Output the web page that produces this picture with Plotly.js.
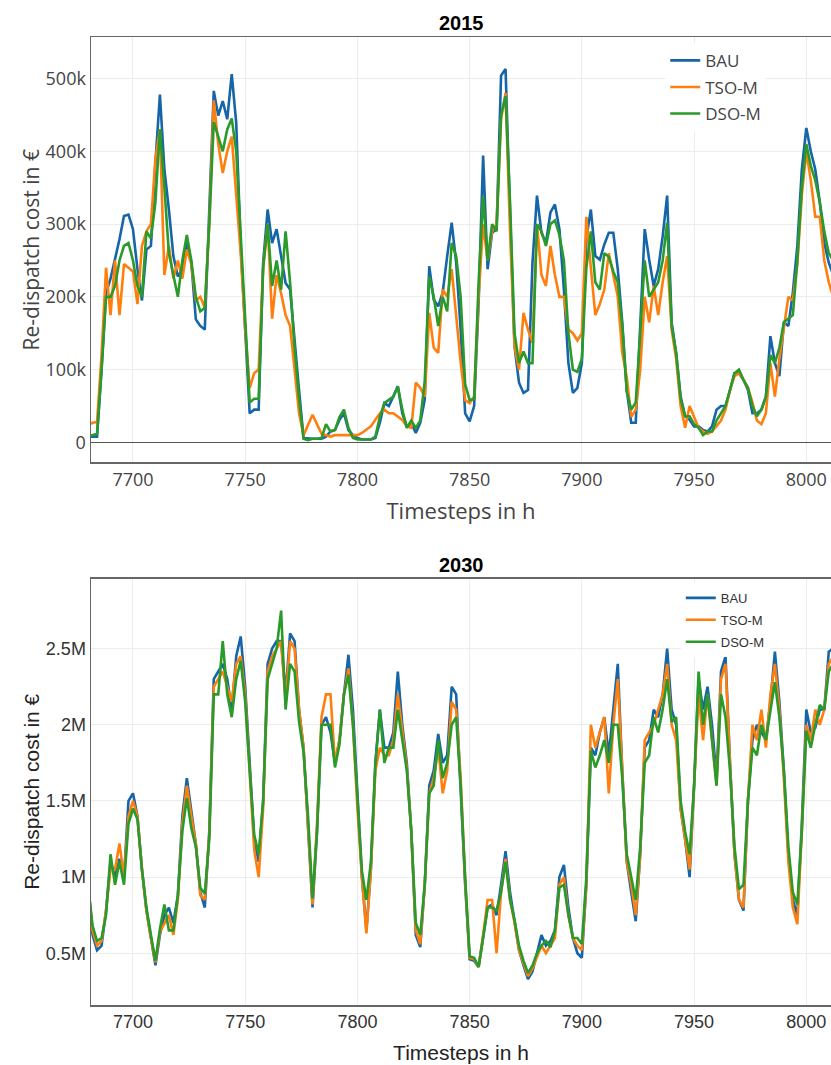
<!DOCTYPE html>
<html>
<head>
<meta charset="utf-8">
<script src="https://cdn.plot.ly/plotly-3.0.1.min.js"></script>
<style>html,body{margin:0;padding:0;background:#fff;}#chart{width:831px;height:1065px;}</style>
</head>
<body>
<div id="chart"></div>
<script>
// Timesteps (hours), sampled every 2 h
const hours = [
7680,7682,7684,7686,7688,7690,7692,7694,7696,7698,
7700,7702,7704,7706,7708,7710,7712,7714,7716,7718,
7720,7722,7724,7726,7728,7730,7732,7734,7736,7738,
7740,7742,7744,7746,7748,7750,7752,7754,7756,7758,
7760,7762,7764,7766,7768,7770,7772,7774,7776,7778,
7780,7782,7784,7786,7788,7790,7792,7794,7796,7798,
7800,7802,7804,7806,7808,7810,7812,7814,7816,7818,
7820,7822,7824,7826,7828,7830,7832,7834,7836,7838,
7840,7842,7844,7846,7848,7850,7852,7854,7856,7858,
7860,7862,7864,7866,7868,7870,7872,7874,7876,7878,
7880,7882,7884,7886,7888,7890,7892,7894,7896,7898,
7900,7902,7904,7906,7908,7910,7912,7914,7916,7918,
7920,7922,7924,7926,7928,7930,7932,7934,7936,7938,
7940,7942,7944,7946,7948,7950,7952,7954,7956,7958,
7960,7962,7964,7966,7968,7970,7972,7974,7976,7978,
7980,7982,7984,7986,7988,7990,7992,7994,7996,7998,
8000,8002,8004,8006,8008,8010,8012];

// 2015 re-dispatch cost, thousand €
const bau2015 = [
8,8,8,100,205,225,250,279,311,313,
293,238,195,265,270,384,478,375,320,256,
228,238,274,247,169,160,155,311,483,449,
469,444,506,439,270,155,40,45,45,247,
320,274,293,256,219,210,146,72,6,5,
5,5,5,8,15,17,31,40,17,10,
6,4,4,4,6,27,54,50,63,77,
40,22,27,13,27,59,242,196,187,206,
256,302,247,155,40,29,50,192,394,238,
288,293,504,513,316,132,82,68,72,247,
339,288,274,316,327,293,210,109,68,75,
109,280,320,256,251,272,288,288,238,165,
72,27,27,155,293,251,215,238,283,339,
165,123,63,36,31,22,22,17,15,22,
45,50,50,72,95,95,86,72,40,40,
45,63,146,109,91,165,160,206,270,375,
432,400,375,330,274,247,230];
const tso2015 = [
24,27,28,120,240,175,250,175,245,240,
235,190,270,290,300,390,430,230,270,225,
250,225,265,245,195,200,185,300,470,410,
370,400,420,340,260,155,75,95,100,240,
300,170,230,205,175,160,100,40,10,25,
38,25,12,10,8,10,10,10,10,10,
10,13,18,22,31,40,45,40,40,36,
31,22,20,82,75,63,178,130,123,210,
200,238,173,110,58,54,63,200,300,250,
290,300,444,480,290,132,100,178,155,137,
300,230,215,270,230,200,200,155,150,140,
150,310,240,175,190,210,260,230,200,123,
90,35,45,100,200,165,215,175,220,256,
155,115,50,20,50,35,20,15,12,15,
22,30,45,72,91,95,86,75,55,30,
25,40,109,63,115,160,200,195,245,340,
400,360,310,310,250,220,200];
const dso2015 = [
8,10,12,100,200,200,215,250,270,274,
250,215,200,290,280,330,430,350,260,230,
200,250,285,250,200,180,185,300,440,420,
400,430,445,400,280,160,55,60,60,240,
300,215,250,210,290,220,130,60,5,3,
5,5,6,25,15,17,35,45,20,6,
4,4,4,4,8,35,54,58,63,77,
45,20,30,20,30,85,228,200,160,200,
180,274,256,200,80,58,60,220,339,250,
300,290,450,476,330,150,109,125,109,109,
300,290,270,300,305,285,250,150,100,97,
115,240,290,220,210,260,255,235,220,160,
70,45,55,150,250,200,210,220,250,302,
160,123,60,36,36,25,20,10,15,15,
30,40,50,72,95,100,86,75,50,36,
45,63,120,109,130,165,170,175,250,350,
410,380,360,330,290,260,250];

// 2030 re-dispatch cost, million €
const bau2030 = [
0.96,0.62,0.52,0.55,0.78,1.1,1.0,1.12,1.0,1.5,
1.55,1.4,1.05,0.78,0.6,0.42,0.62,0.75,0.8,0.7,
0.88,1.4,1.65,1.45,1.22,0.9,0.8,1.3,2.3,2.35,
2.4,2.3,2.1,2.45,2.58,2.25,1.72,1.25,1.1,1.5,
2.4,2.5,2.55,2.55,2.2,2.6,2.55,2.1,1.85,1.35,
0.8,1.3,2.0,2.05,1.95,1.75,1.9,2.2,2.46,2.1,
1.5,1.0,0.65,1.05,1.75,2.1,1.85,1.85,1.95,2.35,
2.0,1.75,1.3,0.62,0.54,0.95,1.6,1.7,1.94,1.75,
1.8,2.25,2.2,1.6,0.95,0.46,0.45,0.41,0.62,0.8,
0.82,0.75,0.95,1.17,0.9,0.72,0.52,0.42,0.33,0.38,
0.5,0.62,0.55,0.58,0.65,1.0,1.08,0.8,0.6,0.5,
0.47,0.95,1.85,1.8,1.95,2.05,1.8,2.1,2.4,1.7,
1.1,0.9,0.71,1.15,1.85,1.9,2.1,2.05,2.2,2.5,
2.1,2.0,1.45,1.25,1.0,1.6,2.3,2.1,2.25,2.0,
1.65,2.35,2.45,1.75,1.15,0.85,0.78,1.5,1.9,2.0,
1.95,1.9,2.15,2.48,2.15,1.7,1.15,0.85,0.75,1.35,
2.1,1.95,1.98,2.1,2.1,2.48,2.5];
const tso2030 = [
0.95,0.65,0.55,0.58,0.78,1.05,1.05,1.22,1.0,1.4,
1.5,1.4,1.05,0.78,0.6,0.44,0.64,0.7,0.75,0.62,
0.85,1.35,1.6,1.4,1.22,0.88,0.85,1.28,2.25,2.3,
2.35,2.25,2.15,2.4,2.45,2.2,1.65,1.18,1.0,1.45,
2.35,2.45,2.5,2.55,2.15,2.55,2.5,2.1,1.85,1.35,
0.82,1.35,2.05,2.2,2.2,1.75,1.9,2.2,2.37,2.0,
1.45,1.0,0.63,1.05,1.7,1.85,1.8,1.8,1.9,2.2,
1.95,1.72,1.3,0.65,0.56,0.95,1.55,1.65,1.85,1.55,
1.7,2.15,2.1,1.65,0.98,0.47,0.46,0.41,0.62,0.85,
0.85,0.5,0.9,1.12,0.85,0.7,0.52,0.43,0.35,0.4,
0.48,0.55,0.5,0.55,0.6,0.95,1.0,0.75,0.6,0.55,
0.52,0.95,2.0,1.85,1.95,2.05,1.55,2.0,2.3,1.7,
1.1,0.95,0.75,1.15,1.9,1.95,2.0,2.1,2.2,2.4,
2.0,1.9,1.45,1.25,1.05,1.6,2.2,1.9,2.2,1.9,
1.6,2.3,2.4,1.75,1.15,0.85,0.8,1.5,2.0,1.9,
2.1,1.85,2.2,2.4,2.1,1.65,1.1,0.8,0.69,1.3,
2.0,1.9,2.1,2.0,2.1,2.4,2.45];
const dso2030 = [
0.95,0.68,0.58,0.6,0.75,1.15,0.95,1.1,0.95,1.35,
1.45,1.38,1.05,0.8,0.62,0.45,0.66,0.82,0.65,0.65,
0.88,1.3,1.52,1.32,1.2,0.93,0.89,1.25,2.2,2.2,
2.55,2.2,2.05,2.3,2.42,2.15,1.7,1.28,1.15,1.5,
2.3,2.4,2.5,2.75,2.1,2.4,2.35,2.02,1.82,1.4,
0.86,1.3,2.0,2.0,2.0,1.72,1.87,2.2,2.33,2.0,
1.5,1.04,0.85,1.1,1.74,2.1,1.75,1.85,1.85,2.1,
1.9,1.7,1.3,0.7,0.62,0.95,1.55,1.6,1.9,1.65,
1.75,2.0,2.05,1.6,1.0,0.48,0.47,0.41,0.6,0.8,
0.8,0.78,0.9,1.1,0.85,0.72,0.55,0.45,0.37,0.42,
0.5,0.55,0.58,0.54,0.65,0.93,0.95,0.75,0.6,0.6,
0.56,1.0,1.83,1.72,1.8,1.9,1.75,2.0,2.0,1.65,
1.15,1.0,0.85,1.2,1.75,1.8,2.05,1.95,2.1,2.3,
2.02,2.05,1.5,1.3,1.15,1.6,2.35,2.0,2.2,1.9,
1.6,2.2,2.05,1.7,1.2,0.92,0.95,1.5,1.85,1.8,
2.0,1.9,2.08,2.28,2.05,1.7,1.2,0.9,0.82,1.3,
1.96,1.85,2.0,2.13,2.1,2.35,2.4];

const seriesNames = ['BAU', 'TSO-M', 'DSO-M'];
const seriesColors = ['#1565a8', '#ff7f0e', '#2a9a2a'];
const xTickVals = [7700, 7750, 7800, 7850, 7900, 7950, 8000];
const xTickText = ['7700', '7750', '7800', '7850', '7900', '7950', '8000'];
const y1TickVals = [0, 100, 200, 300, 400, 500];
const y1TickText = ['0', '100k', '200k', '300k', '400k', '500k'];
const y2TickVals = [0.5, 1, 1.5, 2, 2.5];
const y2TickText = ['0.5M', '1M', '1.5M', '2M', '2.5M'];
const panelTitles = ['2015', '2030'];
const xTitle = 'Timesteps in h';
const yTitle = 'Re-dispatch cost in €';

const series2015 = [bau2015, tso2015, dso2015];
const series2030 = [bau2030, tso2030, dso2030];
const traces = [];
series2015.forEach((ys, i) => traces.push({
  x: hours, y: ys, name: seriesNames[i], type: 'scatter', mode: 'lines',
  line: {color: seriesColors[i], width: 2.6}, xaxis: 'x', yaxis: 'y',
  legend: 'legend', legendgroup: 'a' + i
}));
series2030.forEach((ys, i) => traces.push({
  x: hours, y: ys, name: seriesNames[i], type: 'scatter', mode: 'lines',
  line: {color: seriesColors[i], width: 2.6}, xaxis: 'x2', yaxis: 'y2',
  legend: 'legend2', legendgroup: 'b' + i
}));

const OS = '"Open Sans", sans-serif';
const AR = '"Liberation Sans", Arial, sans-serif';
const xr = [7681.3, 8011];

const layout = {
  width: 831, height: 1065,
  margin: {l: 91, r: 0, t: 37, b: 60},
  paper_bgcolor: '#fff', plot_bgcolor: '#fff',
  showlegend: true,
  xaxis: {
    domain: [0, 1], anchor: 'y', range: xr,
    tickmode: 'array', tickvals: xTickVals, ticktext: xTickText,
    showgrid: true, gridcolor: '#ececec', zeroline: false,
    showline: true, mirror: true, linecolor: '#666', linewidth: 1.5,
    ticks: '', tickfont: {family: OS, size: 18, color: '#444'},
    title: {text: xTitle, font: {family: OS, size: 22, color: '#444'}, standoff: 14}
  },
  yaxis: {
    domain: [0.5605, 1], anchor: 'x', range: [-27.5, 557],
    tickmode: 'array', tickvals: y1TickVals, ticktext: y1TickText,
    showgrid: true, gridcolor: '#ececec',
    zeroline: true, zerolinecolor: '#555', zerolinewidth: 1,
    showline: true, mirror: true, linecolor: '#666', linewidth: 1.5,
    ticks: '', tickfont: {family: OS, size: 18, color: '#444'},
    title: {text: yTitle, font: {family: OS, size: 21, color: '#444'}, standoff: 0}
  },
  xaxis2: {
    domain: [0, 1], anchor: 'y2', range: xr,
    tickmode: 'array', tickvals: xTickVals, ticktext: xTickText,
    showgrid: true, gridcolor: '#ececec', zeroline: false,
    showline: true, mirror: true, linecolor: '#666', linewidth: 1.5,
    ticks: '', tickfont: {family: AR, size: 18, color: '#333'},
    title: {text: xTitle, font: {family: AR, size: 21, color: '#222'}, standoff: 14}
  },
  yaxis2: {
    domain: [0, 0.4405], anchor: 'x2', range: [0.16, 2.96],
    tickmode: 'array', tickvals: y2TickVals, ticktext: y2TickText,
    showgrid: true, gridcolor: '#ececec', zeroline: false,
    showline: true, mirror: true, linecolor: '#666', linewidth: 1.5,
    ticks: '', tickfont: {family: AR, size: 18, color: '#333'},
    title: {text: yTitle, font: {family: AR, size: 21, color: '#222'}, standoff: 0}
  },
  legend: {
    x: 0.776, y: 0.994, xanchor: 'left', yanchor: 'top',
    bgcolor: 'rgba(255,255,255,0.9)', borderwidth: 0,
    font: {family: OS, size: 17, color: '#444'}, tracegroupgap: 1.5
  },
  legend2: {
    x: 0.797, y: 0.436, xanchor: 'left', yanchor: 'top',
    bgcolor: 'rgba(255,255,255,0.9)', borderwidth: 0,
    font: {family: AR, size: 13, color: '#333'}, tracegroupgap: 2
  },
  annotations: [
    {text: '<b>' + panelTitles[0] + '</b>', xref: 'paper', yref: 'paper', x: 0.5, y: 1, yanchor: 'bottom', yshift: 1,
     showarrow: false, font: {family: AR, size: 20, color: '#000'}},
    {text: '<b>' + panelTitles[1] + '</b>', xref: 'paper', yref: 'paper', x: 0.5, y: 0.4405, yanchor: 'bottom', yshift: 1,
     showarrow: false, font: {family: AR, size: 20, color: '#000'}}
  ]
};

Plotly.newPlot('chart', traces, layout, {displayModeBar: false, staticPlot: true});
</script>
</body>
</html>
